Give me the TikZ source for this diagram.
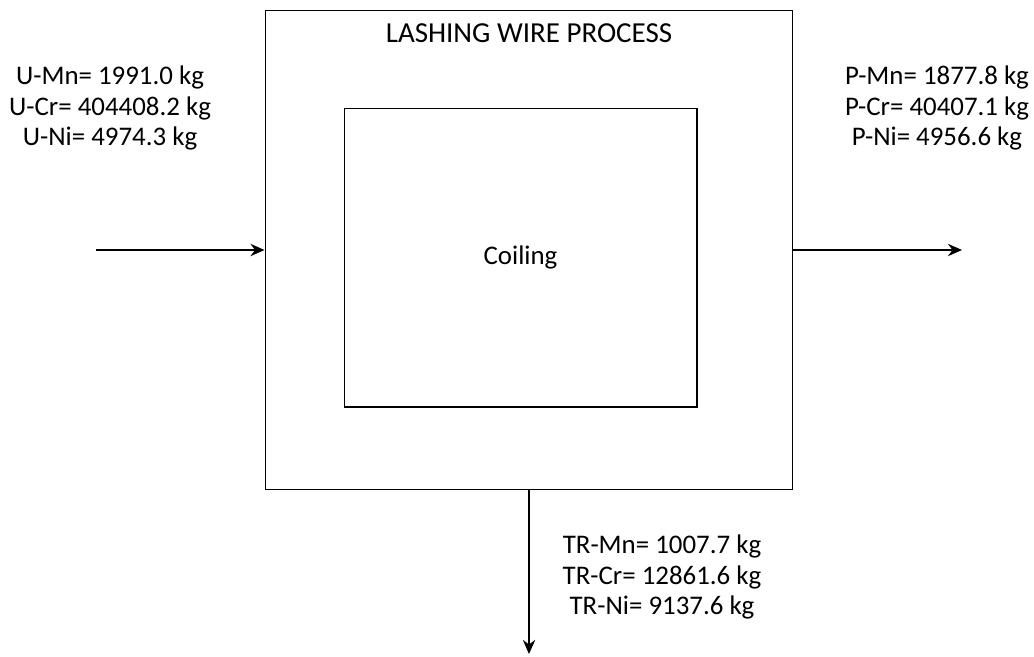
\documentclass[tikz,border=0pt]{standalone}
\usepackage{fontspec}
\setmainfont{Carlito}
\usetikzlibrary{positioning,arrows.meta}

\begin{document}
\begin{tikzpicture}[
                x=0.02cm, y=-0.02cm,
                processbox/.style={
                    draw=black,
                    line width=0.6pt,
                    rectangle,
                    align=center,
                    font=\fontsize{15.3}{18}\selectfont
                },
                flowlabel/.style={
                    align=center,
                    font=\fontsize{15.3}{17.6}\selectfont
                },
                arrow/.style={
                    ->,
                    line width=1.2pt,
                    >={Stealth[length=8pt,width=7pt]}
                }
            ]
                \useasboundingbox (0,0) rectangle (1034,656);

                \node[processbox, minimum width=10.56cm, minimum height=9.6cm] (outer) at (529,250) {};
                \node[flowlabel, font=\fontsize{16.5}{18}\selectfont, below=0.16cm of outer.north] (title) {LASHING WIRE PROCESS};
                \node[processbox, minimum width=7.06cm, minimum height=5.98cm] (coiling) at (520.5,257.5) {Coiling};

                \node[flowlabel] (input) at (110,108) {U-Mn= 1991.0 kg\\U-Cr= 404408.2 kg\\U-Ni= 4974.3 kg};
                \node[flowlabel] (product) at (937,108) {P-Mn= 1877.8 kg\\P-Cr= 40407.1 kg\\P-Ni= 4956.6 kg};
                \node[flowlabel] (trim) at (662,577) {TR-Mn= 1007.7 kg\\TR-Cr= 12861.6 kg\\TR-Ni= 9137.6 kg};

                \coordinate (feed) at (96,250);
                \coordinate (out) at (962,250);
                \coordinate (waste) at (529,654);

                \draw[arrow] (feed) -- (outer.west);
                \draw[arrow] (outer.east) -- (out);
                \draw[arrow] (outer.south) -- (waste);
        \end{tikzpicture}
\end{document}
